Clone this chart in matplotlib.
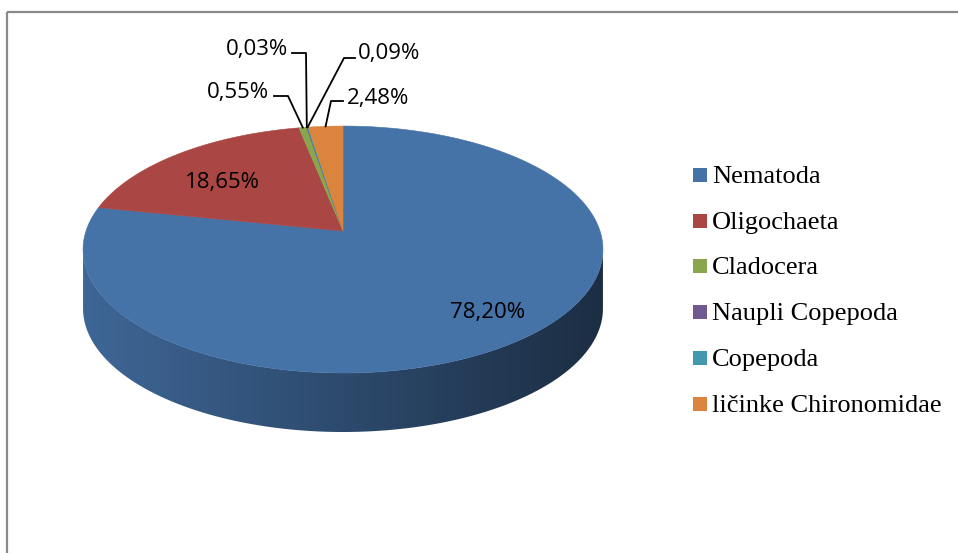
import numpy as np
import matplotlib.pyplot as plt
from matplotlib.colors import to_rgb
from matplotlib.patches import Polygon, Rectangle

# data
categories = ['Nematoda', 'Oligochaeta', 'Cladocera', 'Naupli Copepoda',
              'Copepoda', 'ličinke Chironomidae']
shares = [78.20, 18.65, 0.55, 0.03, 0.09, 2.48]
pct_labels = ['78,20%', '18,65%', '0,55%', '0,03%', '0,09%', '2,48%']
colors = ['#4572A7', '#AA4643', '#89A54E', '#71588F', '#4198AF', '#DB843D']

# label placement (pixel coords): text x, baseline y, alignment, leader elbow / end
label_pos = [(488, 318, 'center'), (222, 188, 'center'), (269, 98, 'right'),
             (288, 55, 'right'), (358, 59, 'left'), (347, 104, 'left')]
leaders = [None, None, ((288, 96), (274, 96)), ((306, 53), (292, 53)),
           ((344, 58), (355, 58)), ((331, 101), (343, 101))]

# pie geometry (pixels), simple perspective tilt
cx, cy = 343, 231
R, Ry, k = 257, 120.7, 0.15
depth = 59


def proj(t, dz=0.0):
    s = 1.0 / (1.0 + k * np.sin(t))
    return cx + R * np.cos(t) * s, cy - Ry * np.sin(t) * s + dz


fig = plt.figure(figsize=(9.58, 5.53), dpi=100)
ax = fig.add_axes([0, 0, 1, 1])
ax.set_xlim(0, 958)
ax.set_ylim(553, 0)
ax.axis('off')

# chart frame
ax.add_patch(Rectangle((7, 12), 1000, 600, fill=False, edgecolor='#8a8a8a', lw=1.6))

fracs = np.array(shares) / np.sum(shares)
cum = np.concatenate([[0], np.cumsum(fracs)])
starts = np.pi / 2 - 2 * np.pi * cum[1:]
ends = np.pi / 2 - 2 * np.pi * cum[:-1]

# side wall (front half only), shaded left to right
vis0 = np.pi + np.arcsin(k)
vis1 = 2 * np.pi - np.arcsin(k)
xl, xr = cx - R * 1.012, cx + R * 1.012
for a, b, col in zip(starts, ends, colors):
    for off in (-2 * np.pi, 0, 2 * np.pi):
        lo, hi = max(a, vis0 + off), min(b, vis1 + off)
        if hi <= lo:
            continue
        t = np.linspace(lo, hi, 200)
        xs, ys = proj(t)
        xs2, ys2 = proj(t[::-1], depth)
        verts = np.column_stack([np.concatenate([xs, xs2]), np.concatenate([ys, ys2])])
        poly = Polygon(verts, closed=True, facecolor='none', edgecolor='none')
        ax.add_patch(poly)
        base = np.array(to_rgb(col))
        shade = np.linspace(0.9, 0.4, 300)
        img = np.clip(shade[None, :, None] * base[None, None, :], 0, 1)
        img = np.repeat(img, 2, axis=0)
        im = ax.imshow(img, extent=[xl, xr, cy + Ry * 1.3 + depth, cy - 30],
                       aspect='auto', zorder=1)
        im.set_clip_path(poly)

# top face
for a, b, col in zip(starts, ends, colors):
    t = np.linspace(a, b, max(4, int((b - a) * 80)))
    xs, ys = proj(t)
    verts = np.column_stack([np.concatenate([[cx], xs]), np.concatenate([[cy], ys])])
    ax.add_patch(Polygon(verts, closed=True, facecolor=col, edgecolor=col,
                         lw=0.4, zorder=2))

ax.set_xlim(0, 958)
ax.set_ylim(553, 0)

# data labels
for i, (txt, (lx, ly, ha)) in enumerate(zip(pct_labels, label_pos)):
    ax.text(lx, ly, txt, ha=ha, va='baseline', fontsize=16,
            family='Open Sans', color='black', zorder=5)
    if leaders[i] is not None:
        mid = (starts[i] + ends[i]) / 2
        px, py = proj(mid)
        (ex, ey), (hx, hy) = leaders[i]
        ax.plot([px, ex, hx], [py, ey, hy], color='black', lw=1.3, zorder=4)

# legend
for i, (name, col) in enumerate(zip(categories, colors)):
    y0 = 168 + i * 45.7
    ax.add_patch(Rectangle((693, y0), 14, 14, facecolor=col, edgecolor='none', zorder=5))
    ax.text(712, 183 + i * 45.7, name, ha='left', va='baseline', fontsize=19,
            family='Liberation Serif', color='black', zorder=5)

fig.savefig('out.png', dpi=100)
